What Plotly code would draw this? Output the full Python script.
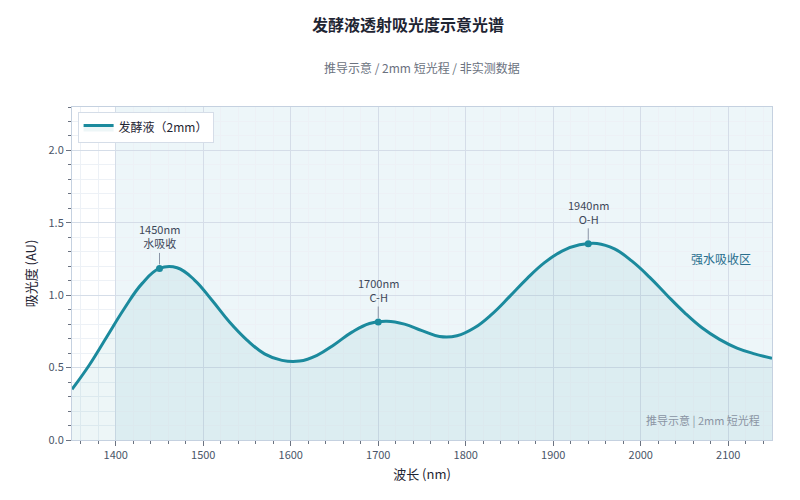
import plotly.graph_objects as go

wavelength = [1350, 1370, 1390, 1410, 1430, 1450, 1470, 1490, 1510, 1530, 1550,
              1570, 1590, 1610, 1630, 1650, 1670, 1690, 1710, 1730, 1750,
              1770, 1790, 1810, 1830, 1850, 1870, 1890, 1910, 1930, 1950,
              1970, 1990, 2010, 2030, 2050, 2070, 2090, 2110, 2130, 2150]
absorbance = [0.35, 0.52, 0.715, 0.91, 1.08, 1.185, 1.19, 1.105, 0.965, 0.815, 0.69,
              0.595, 0.55, 0.545, 0.585, 0.66, 0.745, 0.805, 0.82, 0.80, 0.755,
              0.715, 0.72, 0.775, 0.87, 0.99, 1.115, 1.225, 1.305, 1.348, 1.358,
              1.32, 1.235, 1.125, 1.00, 0.88, 0.775, 0.695, 0.635, 0.595, 0.565]

peak_x = [1450, 1700, 1940]
peak_y = [1.185, 0.815, 1.355]
peak_labels = ["1450nm<br>水吸收", "1700nm<br>C-H", "1940nm<br>O-H"]

band_x0, band_x1 = 1400, 2150
band_label = "强水吸收区"

LINE = "#1b8a9d"
FONT = "Noto Sans CJK SC"

fig = go.Figure()

fig.add_vrect(x0=band_x0, x1=band_x1, fillcolor="rgba(58,150,190,0.09)",
              line_width=0, layer="below")

fig.add_trace(go.Scatter(
    x=wavelength, y=absorbance, mode="lines", name="发酵液（2mm）",
    line=dict(color=LINE, width=3, shape="spline", smoothing=1.2),
    fill="tozeroy", fillcolor="rgba(27,138,157,0.08)",
))
fig.add_trace(go.Scatter(
    x=peak_x, y=peak_y, mode="markers", showlegend=False,
    marker=dict(color=LINE, size=7),
))

for px, py, lab in zip(peak_x, peak_y, peak_labels):
    fig.add_annotation(x=px, y=py, text=lab, showarrow=True, arrowhead=0,
                       arrowwidth=1, arrowcolor="#8a94a6", ax=0, ay=-32,
                       standoff=4, font=dict(size=11, color="#3d4758", family=FONT))

fig.add_annotation(x=2092, y=1.255, text=band_label, showarrow=False,
                   font=dict(size=12, color="#2a6f8e", family=FONT))
fig.add_annotation(x=0.985, y=0.03, xref="paper", yref="paper", xanchor="right",
                   yanchor="bottom", text="推导示意 | 2mm 短光程", showarrow=False,
                   font=dict(size=11, color="#8a94a3", family=FONT))
fig.add_annotation(x=0.5, y=1.15, xref="paper", yref="paper", showarrow=False,
                   text="推导示意 / 2mm 短光程 / 非实测数据",
                   font=dict(size=12, color="#6b7280", family=FONT))

axis_common = dict(
    showline=True, linecolor="#c5d1e0", linewidth=1, mirror=True,
    ticks="outside", ticklen=5, tickcolor="#6b7280",
    gridcolor="#d5dde8", gridwidth=1, zeroline=False,
    tickfont=dict(size=11, color="#4a5568", family=FONT),
)

fig.update_layout(
    width=800, height=500,
    margin=dict(l=64, r=36, t=99, b=68),
    paper_bgcolor="white", plot_bgcolor="white",
    font=dict(family=FONT),
    title=dict(text="<b>发酵液透射吸光度示意光谱</b>", x=0.5, xanchor="center",
               y=0.966, yanchor="middle",
               font=dict(size=16, color="#1f2533", family=FONT)),
    legend=dict(x=0.008, y=0.985, xanchor="left", yanchor="top",
                bgcolor="white", bordercolor="#d5dde8", borderwidth=1,
                font=dict(size=12, color="#1f2533", family=FONT)),
    xaxis=dict(range=[1350, 2150], dtick=100, tick0=1400,
               title=dict(text="波长 (nm)", font=dict(size=13, color="#1f2533", family=FONT),
                          standoff=8),
               minor=dict(dtick=20, ticks="outside", ticklen=3, tickcolor="#6b7280",
                          showgrid=True, gridcolor="#edf1f6"),
               **axis_common),
    yaxis=dict(range=[0, 2.3], dtick=0.5, tickformat=".1f",
               title=dict(text="吸光度 (AU)", font=dict(size=13, color="#1f2533", family=FONT),
                          standoff=8),
               minor=dict(dtick=0.1, ticks="outside", ticklen=3, tickcolor="#6b7280",
                          showgrid=True, gridcolor="#edf1f6"),
               **axis_common),
)

fig.write_html("out.html")
